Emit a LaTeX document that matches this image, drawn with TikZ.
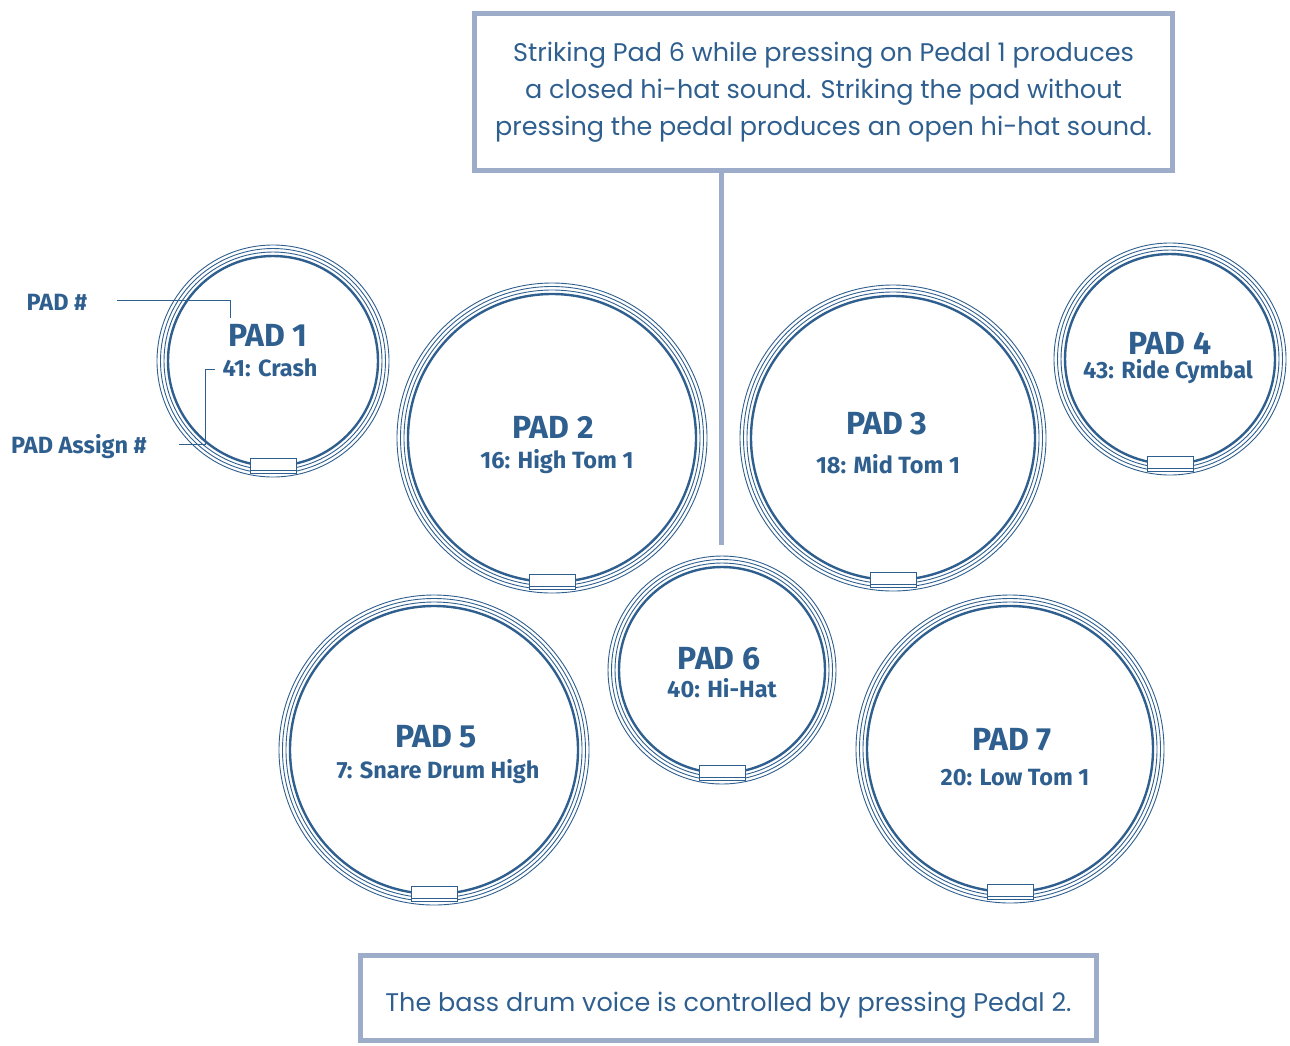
\documentclass[tikz,border=0pt]{standalone}
\usepackage{fontspec}
\setmainfont{Poppins}
\setsansfont{Fira Sans}
\definecolor{padblue}{HTML}{2F5F8F}
\definecolor{boxgray}{HTML}{9DACC8}

\begin{document}
\begin{tikzpicture}[x=1pt, y=-1pt,
    padthin/.style={draw=padblue, line width=0.9pt},
    padthick/.style={draw=padblue, line width=2.4pt},
    padtab/.style={draw=padblue, fill=white, line width=0.9pt},
    padtitle/.style={text=padblue, inner sep=0pt, font=\sffamily\bfseries\fontsize{32}{34}\selectfont},
    padvoice/.style={text=padblue, inner sep=0pt, font=\sffamily\bfseries\fontsize{23.5}{26}\selectfont},
    keylabel/.style={text=padblue, inner sep=0pt, font=\sffamily\bfseries\fontsize{23.5}{26}\selectfont},
    leader/.style={draw=padblue, line width=1pt},
    notebox/.style={draw=boxgray, line width=5pt, text=padblue, inner sep=0pt, align=center, font=\fontsize{25.5}{37}\selectfont},
    hatline/.style={draw=boxgray, line width=5pt}]
    \useasboundingbox (0,0) rectangle (1290,1045);

    % pads: number / centre / radius / title / voice
    \foreach \n/\cx/\cy/\r/\tx/\ty/\vx/\vy/\voice in {
        1/273/361/116/268/335/270/368/{41: Crash},
        2/552/438/155/553/427/557/462/{16: High Tom 1},
        3/893/438/153/887/424/888/464/{18: Mid Tom 1},
        4/1170/359/116/1170/343/1168/372/{43: Ride Cymbal},
        5/434/750/155/436/737/438/772/{7: Snare Drum High},
        6/722/670/114/719/659/722/688/{40: Hi-Hat},
        7/1010/749/154/1012/740/1015/778/{20: Low Tom 1}} {
        \draw[padthin] (\cx,\cy) circle (\r) circle (\r-3.5) circle (\r-7);
        \draw[padthick] (\cx,\cy) circle (\r-11);
        \draw[padtab] (\cx-23,\cy+\r-19) rectangle (\cx+23,\cy+\r-4);
        \draw[padthin] (\cx-23,\cy+\r-7) -- (\cx+23,\cy+\r-7);
        \node[padtitle] (pad\n) at (\tx,\ty) {PAD \n};
        \node[padvoice] (voice\n) at (\vx,\vy) {\voice};
    }

    % key labels
    \node[keylabel] (padnum) at (57,302) {PAD \#};
    \node[keylabel] (padassign) at (79,447) {PAD Assign \#};
    \coordinate (numtip) at (230,318);
    \coordinate (assigntip) at (215,369);
    \draw[leader] ([xshift=30pt,yshift=2pt]padnum.east) -| (numtip);
    \draw[leader] ([xshift=32pt,yshift=3pt]padassign.east) -| ([xshift=-10pt]assigntip) -- (assigntip);

    % hi-hat note
    \node[notebox, minimum width=698, minimum height=157] (hatnote) at (823.5,92)
        {Striking Pad 6 while pressing on Pedal 1 produces\\
         a closed hi-hat sound. Striking the pad without\\
         pressing the pedal produces an open hi-hat sound.};
    \coordinate (hattip) at (721,545);
    \draw[hatline] (hatnote.south -| hattip) -- (hattip);

    % bass drum note
    \node[notebox, minimum width=736, minimum height=85, text height=27pt, text depth=0pt] (bassnote) at (728.5,998)
        {The bass drum voice is controlled by pressing Pedal 2.};
\end{tikzpicture}
\end{document}
